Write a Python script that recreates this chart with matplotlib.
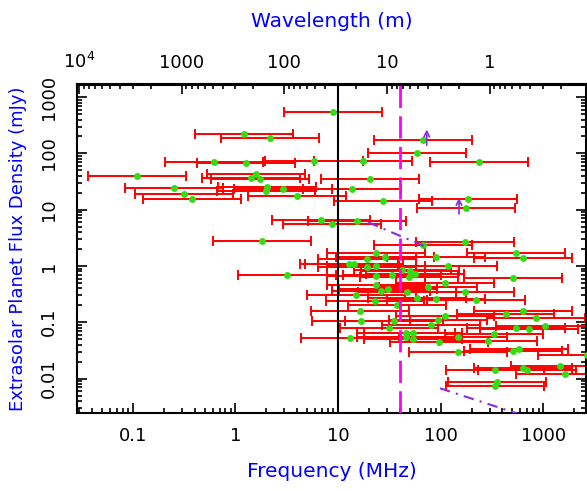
import matplotlib
matplotlib.use('Agg')
import matplotlib.pyplot as plt
import matplotlib.ticker as ticker
import numpy as np

# planet frequencies (MHz) and predicted flux densities (mJy)
freq_mhz = [8.88, 1.21, 2.19, 0.614, 1.26, 5.87, 17.6, 0.111, 1.60, 1.43, 1.72,
            0.254, 0.315, 0.375, 2.05, 2.00, 2.89, 13.6, 3.98, 27.6, 6.88, 8.74,
            15.4, 1.80, 3.16, 67.8, 59.3, 237, 20.5, 184, 177,
            174, 67.8, 23.5, 547, 636, 90.2, 19.3, 28.7, 12.9, 14.4, 23.3, 19.0,
            118, 42.5, 50.3, 56.7, 23.3, 33.6, 49.2, 505, 111, 23.5, 30.5, 26.2,
            74.8, 174, 46.7, 14.9, 58.5, 89.6, 221, 23.1, 37.3, 16.4, 634, 429,
            111, 857, 16.8, 35.2, 94.3, 31.6, 81.2, 1041, 547, 727, 46.0, 53.8,
            53.8, 334, 13.1, 148, 95.8, 290, 148, 505, 577, 341, 631, 700, 1468,
            1631, 357, 341, 2690, 46.0]
flux_mjy = [550, 224, 190, 70.3, 68.4, 72.4, 72.4, 40.2, 42.5, 37.0, 34.7,
            24.6, 19.2, 15.7, 25.0, 21.2, 23.3, 23.3, 17.3, 14.5, 6.48, 5.64,
            6.30, 2.78, 0.701, 171, 103, 69.5, 35.1, 15.3, 10.9,
            2.67, 2.36, 1.67, 1.67, 1.36, 1.42, 1.32, 1.43, 1.085, 1.085, 1.0, 0.948,
            1.02, 0.849, 0.815, 0.736, 0.678, 0.692, 0.638, 0.605, 0.509, 0.451, 0.395, 0.360,
            0.427, 0.345, 0.345, 0.302, 0.265, 0.259, 0.254, 0.239, 0.203, 0.162, 0.159, 0.139,
            0.129, 0.121, 0.107, 0.107, 0.110, 0.0802, 0.0895, 0.0860, 0.0792, 0.0751, 0.0654, 0.0654,
            0.0501, 0.0612, 0.0516, 0.0555, 0.0447, 0.0466, 0.0293, 0.0313, 0.0329, 0.0140, 0.0157, 0.0140, 0.0165,
            0.0119, 0.00859, 0.00730, 0.0262, 0.0555]
bar_factor = 3.0  # every bar spans f/3 .. 3f

# lower limits (arrows)
arrow_freq = [73.2, 151]
arrow_lo = [125, 7.5]
arrow_hi = [298, 18.2]

# sensitivity curves (dash-dot)
curve1_freq = [19.7, 71.6]
curve1_flux = [5.97, 2.2]
curve2_freq = [98.6, 600]
curve2_flux = [0.00673, 0.0023]

cutoff_freq = 10.0     # black line
iono_freq = 40.0       # magenta dashed line

f = np.array(freq_mhz)
s = np.array(flux_mjy)

fig = plt.figure(figsize=(5.87, 4.91), dpi=100)
ax = fig.add_axes([77/587, 1 - 413.3/491, 509/587, (413.3 - 84.5)/491])
ax.set_xscale('log')
ax.set_yscale('log')
ax.set_xlim(0.0286, 2610)
ax.set_ylim(0.00242, 1675)

ax.errorbar(f, s, xerr=[f - f/bar_factor, f*bar_factor - f], fmt='none',
            ecolor='#ff0000', elinewidth=1.4, capsize=3.5, capthick=1.4, zorder=2)
ax.plot(f, s, 'o', color='#33dd11', markersize=5, markeredgewidth=0, zorder=3)

ax.axvline(cutoff_freq, color='black', lw=1.5, zorder=4)
ax.axvline(iono_freq, color='#ff00ff', lw=2, dashes=(8, 3), zorder=4)

ax.plot(curve1_freq, curve1_flux, color='#8a2be2', lw=1.5, dashes=(5, 3, 1, 3), zorder=4)
ax.plot(curve2_freq, curve2_flux, color='#8a2be2', lw=1.5, dashes=(5, 3, 1, 3), zorder=4)
for fa, lo, hi in zip(arrow_freq, arrow_lo, arrow_hi):
    ax.annotate('', xy=(fa, hi), xytext=(fa, lo),
                arrowprops=dict(arrowstyle='->', color='#8a2be2', lw=1.2), zorder=5)

fmt = ticker.FuncFormatter(lambda v, p: '%g' % v)
ax.xaxis.set_major_locator(ticker.LogLocator(base=10, numticks=20))
ax.xaxis.set_major_formatter(fmt)
ax.yaxis.set_major_locator(ticker.LogLocator(base=10, numticks=20))
ax.yaxis.set_major_formatter(fmt)
ax.xaxis.set_minor_formatter(ticker.NullFormatter())
ax.yaxis.set_minor_formatter(ticker.NullFormatter())
ax.tick_params(which='both', direction='in', right=True, top=False, width=1.2)
ax.tick_params(which='major', length=7, labelsize=13)
ax.tick_params(which='minor', length=3.5)
ax.tick_params(axis='x', pad=10)
ax.tick_params(axis='y', pad=14)
for lab in ax.get_yticklabels():
    lab.set_rotation(90)
    lab.set_va('center')
for sp in ax.spines.values():
    sp.set_linewidth(1.5)

# wavelength axis on top
top = ax.secondary_xaxis('top', functions=(lambda x: 300.0/x, lambda x: 300.0/x))
top.set_xticks([1e4, 1e3, 1e2, 10, 1])
top.set_xticklabels(['$10^4$', '1000', '100', '10', '1'])
top.xaxis.set_minor_locator(ticker.LogLocator(base=10, subs=np.arange(2, 10), numticks=20))
top.xaxis.set_minor_formatter(ticker.NullFormatter())
top.tick_params(which='both', direction='in', width=1.2, labelsize=13, pad=9)
top.tick_params(which='major', length=7)
top.tick_params(which='minor', length=3.5)
top.spines['top'].set_linewidth(1.5)

ax.set_xlabel('Frequency (MHz)', color='blue', fontsize=14.5, labelpad=12)
top.set_xlabel('Wavelength (m)', color='blue', fontsize=14.5, labelpad=18)
ax.set_ylabel('Extrasolar Planet Flux Density (mJy)', color='blue', fontsize=13, labelpad=9)

fig.savefig('out.png', dpi=100)
